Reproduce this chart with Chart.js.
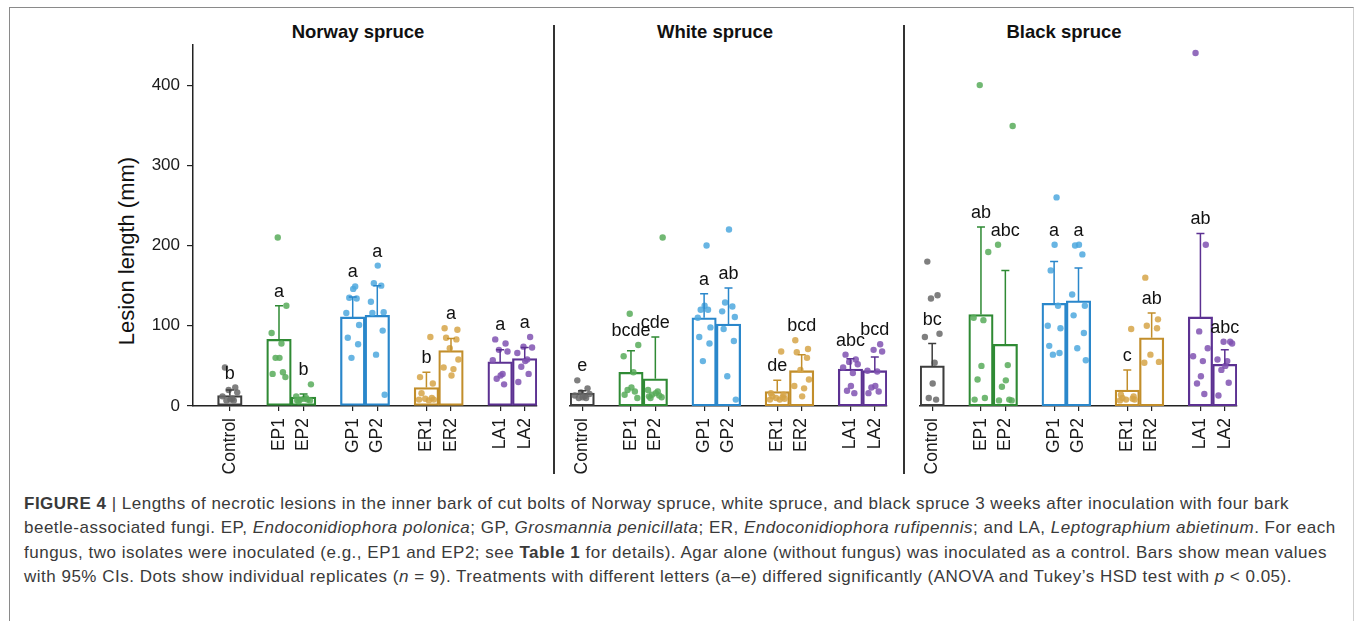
<!DOCTYPE html>
<html>
<head>
<meta charset="utf-8">
<script src="https://cdn.jsdelivr.net/npm/chart.js@4.4.1/dist/chart.umd.min.js"></script>
<style>
  body { margin: 0; background: #fff; font-family: "Liberation Sans", Arial, sans-serif; }
  #stage { position: relative; width: 1355px; height: 621px; overflow: hidden; }
  #frame { position: absolute; left: 9px; top: 7px; width: 1343px; height: 700px;
           border: 1px solid #8a8a8a; border-right-color: #cfcfcf; border-bottom: none; }
  .panel { position: absolute; top: 0; height: 490px; }
  .ptitle { position: absolute; top: 20px; line-height: 24px; font-size: 18.5px; font-weight: bold;
            color: #111; transform: translateX(-50%); white-space: nowrap; }
  #ytitle { position: absolute; left: 127px; top: 251px; font-size: 22px; color: #111; white-space: nowrap;
            transform: translate(-50%, -50%) rotate(-90deg); }
  .divider { position: absolute; top: 25px; height: 449px; width: 1.5px; background: #333; }
  #caption { position: absolute; left: 24px; top: 492px; font-size: 17px; letter-spacing: 0.5px;
             line-height: 24.4px; color: #3a3a3a; }
  #caption div { white-space: nowrap; }
</style>
</head>
<body>
<div id="stage">
  <div id="frame"></div>
  <div class="ptitle" id="t0" style="left:358px"></div>
  <div class="ptitle" id="t1" style="left:715px"></div>
  <div class="ptitle" id="t2" style="left:1064px"></div>
  <div id="ytitle">Lesion length (mm)</div>
  <div class="divider" style="left:553px"></div>
  <div class="divider" style="left:903px"></div>
  <div class="panel" style="left:140px; width:417px"><canvas id="c0"></canvas></div>
  <div class="panel" style="left:560px; width:347px"><canvas id="c1"></canvas></div>
  <div class="panel" style="left:910px; width:347px"><canvas id="c2"></canvas></div>
  <div id="caption">
    <div><b>FIGURE 4</b> | Lengths of necrotic lesions in the inner bark of cut bolts of Norway spruce, white spruce, and black spruce 3 weeks after inoculation with four bark</div>
    <div>beetle-associated fungi. EP, <i>Endoconidiophora polonica</i>; GP, <i>Grosmannia penicillata</i>; ER, <i>Endoconidiophora rufipennis</i>; and LA, <i>Leptographium abietinum</i>. For each</div>
    <div>fungus, two isolates were inoculated (e.g., EP1 and EP2; see <b>Table 1</b> for details). Agar alone (without fungus) was inoculated as a control. Bars show mean values</div>
    <div>with 95% CIs. Dots show individual replicates (<i>n</i> = 9). Treatments with different letters (a–e) differed significantly (ANOVA and Tukey’s HSD test with <i>p</i> &lt; 0.05).</div>
  </div>
</div>
<script>
const categories = ['Control', '', 'EP1', 'EP2', '', 'GP1', 'GP2', '', 'ER1', 'ER2', '', 'LA1', 'LA2'];
const yTicks = [0, 100, 200, 300, 400];
const yMax = 450;
const panelTitles = ['Norway spruce', 'White spruce', 'Black spruce'];

// Norway spruce
const norwayMeans = [13, null, 83, 11, null, 111, 113, null, 23, 69, null, 55, 59];
const norwayCI = [20, null, 125, 15, null, 136, 150, null, 42, 84, null, 70, 73];
const norwayLetters = ['b', '', 'a', 'b', '', 'a', 'a', '', 'b', 'a', '', 'a', 'a'];
const norwayDots = [
    [48, 23, 20, 17, 12, 9, 8, 7, 7], [],
    [210, 125, 91, 78, 60, 60, 42, 40, 36],
    [27, 12, 10, 9, 8, 8, 7, 7, 6], [],
    [149, 146, 135, 134, 116, 101, 85, 77, 60],
    [175, 153, 150, 130, 117, 116, 94, 64, 14], [],
    [86, 36, 28, 16, 10, 9, 8, 8, 7],
    [97, 95, 85, 83, 72, 58, 48, 46, 38], [],
    [83, 78, 70, 68, 57, 40, 38, 34, 27],
    [86, 74, 73, 66, 58, 56, 49, 40, 30]
];

// White spruce
const whiteMeans = [16, null, 42, 34, null, 110, 102, null, 18, 44, null, 46, 44];
const whiteCI = [19, null, 69, 86, null, 140, 147, null, 32, 64, null, 59, 61];
const whiteLetters = ['e', '', 'bcde', 'cde', '', 'a', 'ab', '', 'de', 'bcd', '', 'abc', 'bcd'];
const whiteDots = [
    [32, 22, 17, 15, 13, 12, 11, 10, 10], [],
    [115, 76, 62, 42, 23, 20, 18, 14, 10],
    [210, 20, 18, 16, 14, 13, 12, 11, 10], [],
    [200, 125, 120, 120, 110, 98, 86, 78, 56],
    [220, 129, 124, 118, 111, 96, 81, 37, 8], [],
    [68, 16, 14, 12, 11, 10, 9, 8, 8],
    [82, 71, 67, 60, 45, 33, 25, 22, 12], [],
    [64, 58, 55, 52, 48, 41, 25, 19, 16],
    [77, 70, 68, 44, 43, 25, 23, 18, 16]
];

// Black spruce
const blackMeans = [50, null, 114, 77, null, 128, 131, null, 20, 85, null, 111, 52];
const blackCI = [78, null, 223, 169, null, 180, 172, null, 45, 116, null, 215, 70];
const blackLetters = ['bc', '', 'ab', 'abc', '', 'a', 'a', '', 'c', 'ab', '', 'ab', 'abc'];
const blackDots = [
    [180, 138, 134, 90, 86, 54, 28, 10, 8], [],
    [400, 192, 110, 107, 50, 33, 10, 8],
    [349, 201, 51, 32, 24, 8, 7, 7], [],
    [260, 201, 169, 125, 100, 97, 75, 66, 64],
    [201, 200, 189, 139, 125, 113, 91, 72, 57], [],
    [96, 14, 12, 10, 9, 8, 8, 7],
    [160, 108, 100, 97, 64, 55, 54], [],
    [440, 201, 93, 72, 62, 56, 37, 28, 15],
    [80, 80, 78, 58, 56, 50, 45, 29, 13]
];

const palette = {
    Control: { line: '#3d3d3d', dot: 'rgba(105,105,105,0.85)' },
    EP: { line: '#2f8a34', dot: 'rgba(88,172,90,0.85)' },
    GP: { line: '#2a87cb', dot: 'rgba(78,168,222,0.85)' },
    ER: { line: '#c28e2b', dot: 'rgba(214,164,72,0.85)' },
    LA: { line: '#5c3192', dot: 'rgba(128,82,178,0.85)' }
};
const jitter = [-0.2, 0.22, -0.05, 0.3, -0.3, 0.1, 0.02, -0.14, 0.16, -0.26, 0.26];
const groupOf = label => label === 'Control' ? 'Control' : label.slice(0, 2);
const fontFamily = '"Liberation Sans", Arial, sans-serif';

function makeChart(id, means, ci, letters, dots, first) {
    const lead = first ? 1 : 0;
    const labels = (first ? [''] : []).concat(categories);
    const barData = (first ? [null] : []).concat(means);
    const lineColor = labels.map(l => l ? palette[groupOf(l)].line : 'transparent');

    const points = [];
    dots.forEach((vals, i) => vals.forEach((v, k) => {
        points.push({ x: i + lead + jitter[(k + i) % jitter.length], y: v, g: groupOf(categories[i]) });
    }));

    // error bars (upper CI) and group letters
    const decor = {
        id: 'decor',
        afterDatasetsDraw(chart) {
            const ctx = chart.ctx;
            const x = chart.scales.x, y = chart.scales.y;
            means.forEach((m, i) => {
                if (m === null) return;
                const px = x.getPixelForValue(i + lead);
                const top = y.getPixelForValue(ci[i]);
                ctx.save();
                ctx.strokeStyle = palette[groupOf(categories[i])].line;
                ctx.lineWidth = 1.5;
                ctx.beginPath();
                ctx.moveTo(px, y.getPixelForValue(m));
                ctx.lineTo(px, top);
                ctx.moveTo(px - 4, top);
                ctx.lineTo(px + 4, top);
                ctx.stroke();
                const near = dots[i].filter(d => d <= ci[i] * 1.2 + 15);
                const anchor = Math.max(ci[i], ...near);
                ctx.fillStyle = '#111';
                ctx.font = '18px ' + fontFamily;
                ctx.textAlign = 'center';
                ctx.textBaseline = 'middle';
                ctx.fillText(letters[i], px, y.getPixelForValue(anchor) - 14);
                ctx.restore();
            });
        }
    };

    const yScale = {
        display: first,
        min: 0,
        max: yMax,
        afterBuildTicks: s => { s.ticks = yTicks.map(v => ({ value: v })); },
        border: { display: true, color: '#222', width: 1.5 },
        grid: { drawOnChartArea: false, tickLength: 6, lineWidth: 1.2, color: '#222' },
        ticks: { padding: 7, color: '#1a1a1a', font: { size: 17, family: fontFamily } }
    };
    if (first) yScale.afterFit = s => { s.width = 53; };

    return new Chart(document.getElementById(id), {
        type: 'bar',
        data: {
            labels: labels,
            datasets: [{
                type: 'scatter',
                data: points,
                xAxisID: 'xj',
                yAxisID: 'y',
                order: 0,
                pointRadius: 3.2,
                pointBorderWidth: 0,
                pointBackgroundColor: c => c.raw ? palette[c.raw.g].dot : 'transparent'
            }, {
                type: 'bar',
                data: barData,
                xAxisID: 'x',
                yAxisID: 'y',
                order: 1,
                grouped: false,
                backgroundColor: 'rgba(255,255,255,0)',
                borderColor: lineColor,
                borderWidth: 1.6,
                borderSkipped: false,
                barPercentage: 1,
                categoryPercentage: 1
            }]
        },
        options: {
            responsive: true,
            maintainAspectRatio: false,
            animation: false,
            layout: { padding: { top: 45, right: 20, left: first ? 0 : 10, bottom: 0 } },
            plugins: { legend: { display: false }, tooltip: { enabled: false } },
            scales: {
                x: {
                    type: 'category',
                    offset: true,
                    afterFit: s => { s.height = 84; },
                    border: { display: true, color: '#222', width: 1.5 },
                    grid: {
                        offset: false,
                        drawOnChartArea: false,
                        tickLength: 5,
                        lineWidth: 1.2,
                        color: c => labels[c.index] ? '#222' : 'transparent'
                    },
                    ticks: {
                        autoSkip: false,
                        minRotation: 90,
                        maxRotation: 90,
                        padding: 7,
                        color: '#1a1a1a',
                        font: { size: 17.5, family: fontFamily }
                    }
                },
                xj: {
                    type: 'linear',
                    display: false,
                    offset: false,
                    min: -0.5,
                    max: labels.length - 0.5
                },
                y: yScale
            }
        },
        plugins: [decor]
    });
}

panelTitles.forEach((t, i) => { document.getElementById('t' + i).textContent = t; });
makeChart('c0', norwayMeans, norwayCI, norwayLetters, norwayDots, true);
makeChart('c1', whiteMeans, whiteCI, whiteLetters, whiteDots, false);
makeChart('c2', blackMeans, blackCI, blackLetters, blackDots, false);
</script>
</body>
</html>
